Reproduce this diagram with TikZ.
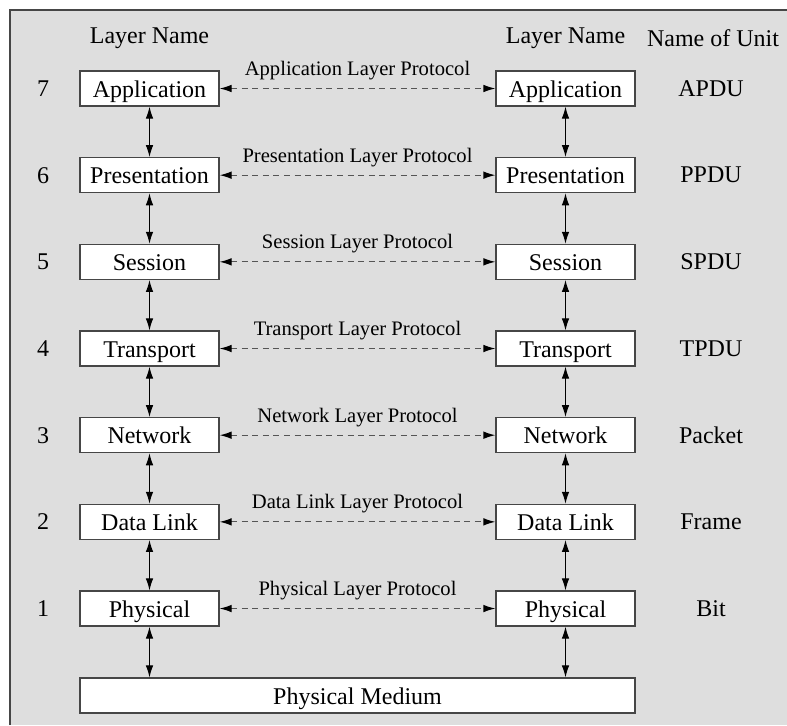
\documentclass[tikz,border=0pt]{standalone}
\usepackage{fontspec}
\setmainfont{Liberation Serif}
\usetikzlibrary{arrows.meta}
\definecolor{panel}{RGB}{222,222,222}
\definecolor{edge}{RGB}{70,70,70}
\definecolor{dashgray}{RGB}{85,85,85}
\begin{document}
\begin{tikzpicture}[x=0.5pt,y=-0.5pt,
  layerbox/.style={draw=edge,line width=0.6pt,fill=white,minimum width=69.5pt,
    minimum height=17.5pt,inner sep=0pt,text depth=1pt,text height=9.5pt,
    font=\fontsize{12}{14}\selectfont},
  plain/.style={inner sep=0pt,font=\fontsize{12}{14}\selectfont},
  protolabel/.style={inner sep=0pt,font=\fontsize{10.3}{12}\selectfont},
  ptip/.tip={Latex[length=6pt,width=3.8pt,color=black]},
  stack/.style={draw=black,line width=0.55pt,ptip-ptip},
  peer/.style={draw=dashgray,line width=0.6pt,dash pattern=on 3pt off 2.3pt,ptip-ptip}]
  % panel and its frame (open to the right and bottom)
  \useasboundingbox (0,0) rectangle (787,725);
  \fill[panel] (10,10) rectangle (787,725);
  \draw[edge,line width=0.6pt] (10,725) -- (10,10) -- (787,10);
  % column headings
  \node[plain] (hl) at (149.5,38) {Layer Name};
  \node[plain] (hr) at (565.5,38) {Layer Name};
  \node[plain] (hu) at (713,38) {Name of Unit};
  % the seven layers on both hosts
  \foreach \n/\name/\unit [count=\i from 0] in
    {7/Application/APDU,6/Presentation/PPDU,5/Session/SPDU,4/Transport/TPDU,
     3/Network/Packet,2/Data Link/Frame,1/Physical/Bit}{
    \pgfmathsetmacro{\yy}{88.5+86.67*\i}
    \node[plain] (num\n) at (43,\yy) {\n};
    \node[layerbox] (L\n) at (149.5,\yy) {\name};
    \node[layerbox] (R\n) at (565.5,\yy) {\name};
    \node[plain] (unit\n) at (711,\yy) {\unit};
    \draw[peer] (L\n.east) -- node[protolabel,above=4pt] {\name{} Layer Protocol} (R\n.west);
  }
  % medium
  \node[layerbox,minimum width=277.5pt] (med) at (357.5,695.5) {Physical Medium};
  % interfaces between adjacent layers
  \foreach \a/\b in {7/6,6/5,5/4,4/3,3/2,2/1}{
    \draw[stack] (L\a.south) -- (L\b.north);
    \draw[stack] (R\a.south) -- (R\b.north);
  }
  \draw[stack] (L1.south) -- (L1.south |- med.north);
  \draw[stack] (R1.south) -- (R1.south |- med.north);
\end{tikzpicture}
\end{document}
